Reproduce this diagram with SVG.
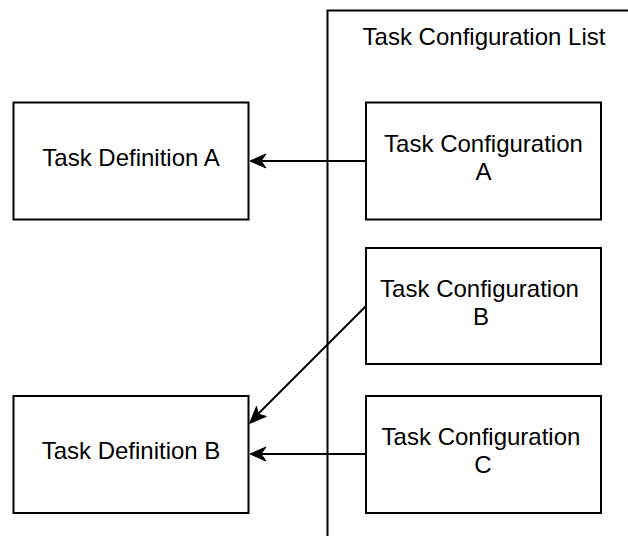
<svg xmlns="http://www.w3.org/2000/svg" width="628" height="536" viewBox="0 0 628 536">
<style>
.box{fill:#fff;stroke:#000;stroke-width:2}
.lbl{font-family:"Liberation Sans",Arial,sans-serif;font-size:24px;fill:#000;text-anchor:middle}
.edge{fill:none;stroke:#000;stroke-width:2}
</style>
<g id="container">
<path d="M327.5,545 V10.5 H640" fill="none" stroke="#000" stroke-width="2"/>
<text class="lbl" x="484" y="45">Task Configuration List</text>
</g>
<g id="defA"><rect class="box" x="13.5" y="102.5" width="235" height="117"/><text class="lbl" x="131" y="166">Task Definition A</text></g>
<g id="defB"><rect class="box" x="13.5" y="396" width="235" height="117"/><text class="lbl" x="131" y="459">Task Definition B</text></g>
<g id="cfgA"><rect class="box" x="366" y="102.5" width="235" height="117"/><text class="lbl" x="483.5" y="152">Task Configuration</text><text class="lbl" x="483.5" y="180">A</text></g>
<g id="cfgB"><rect class="box" x="366" y="248" width="235" height="116"/><text class="lbl" x="479.5" y="297">Task Configuration</text><text class="lbl" x="481" y="325">B</text></g>
<g id="cfgC"><rect class="box" x="366" y="396" width="235" height="117"/><text class="lbl" x="481" y="445">Task Configuration</text><text class="lbl" x="483" y="473">C</text></g>
<g id="connectors">
<path class="edge" d="M366,161 H262" />
<path d="M250,161 L266,154 L261,161 L266,168 Z" fill="#000" stroke="#000"/>
<path class="edge" d="M366,306 L258,414" />
<path d="M249.5,423.5 L256.5,406.5 L258.3,414.2 L266.4,416.4 Z" fill="#000" stroke="#000"/>
<path class="edge" d="M366,454 H262" />
<path d="M250,454 L266,447 L261,454 L266,461 Z" fill="#000" stroke="#000"/>
</g>
</svg>
